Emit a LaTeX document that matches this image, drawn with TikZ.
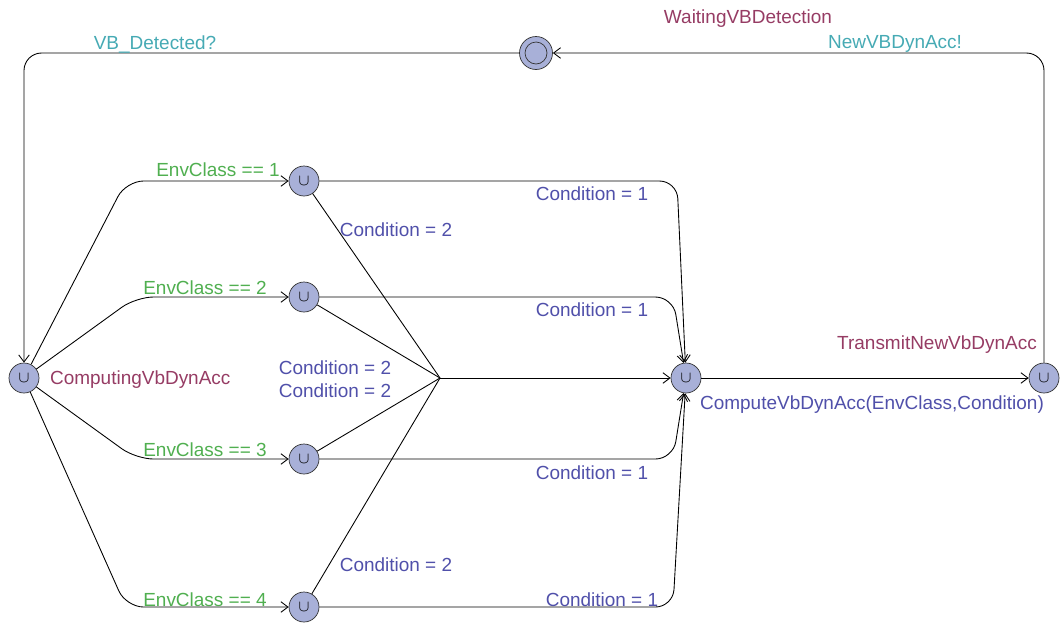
\documentclass[tikz,border=0pt]{standalone}
\usepackage{fontspec}
\setmainfont{Liberation Sans}
\usetikzlibrary{arrows.meta, positioning, calc}

\definecolor{locfill}{RGB}{168,176,216}
\definecolor{locname}{RGB}{150,60,100}
\definecolor{guardcol}{RGB}{80,175,80}
\definecolor{synccol}{RGB}{70,170,180}
\definecolor{updcol}{RGB}{80,80,170}

\begin{document}
\begin{tikzpicture}[
    x=0.02cm, y=-0.02cm,
    font=\fontsize{10.8pt}{13pt}\selectfont,
    location/.style={circle, draw=black!80, fill=locfill, minimum size=0.6cm, inner sep=0pt},
    committed/.style={location, font=\small},
    waiting/.style={location, minimum size=0.66cm, path picture={\draw[black!80] (path picture bounding box.center) circle (0.22cm);}},
    lname/.style={text=locname, inner sep=1pt},
    guard/.style={text=guardcol, inner sep=1pt},
    sync/.style={text=synccol, inner sep=1pt},
    update/.style={text=updcol, inner sep=1pt},
    arrow/.style={-{Straight Barb[length=4pt, width=6pt]}, line width=0.5pt, rounded corners=10pt},
    edge/.style={line width=0.5pt, rounded corners=10pt}
]
    \useasboundingbox (0,0) rectangle (1060,626);

    % Locations
    \node[committed] (comp) at (24,378) {$\cup$};
    \node[committed] (env1) at (304,181) {$\cup$};
    \node[committed] (env2) at (304,297) {$\cup$};
    \node[committed] (env3) at (304,459) {$\cup$};
    \node[committed] (env4) at (304,607) {$\cup$};
    \node[committed] (calc) at (686,378) {$\cup$};
    \node[committed] (trans) at (1044,378) {$\cup$};
    \node[waiting] (wait) at (536,53) {};
    \coordinate (branch) at (440,378);

    % Location names
    \node[lname, anchor=west] (compname) at (48,380) {ComputingVbDynAcc};
    \node[lname] (waitname) at (748,19) {WaitingVBDetection};
    \node[lname] (transname) at (937,345) {TransmitNewVbDynAcc};

    % Connections
    \draw[arrow] (wait) -- (24,53) -- (comp);
    \draw[arrow] (trans) -- (1044,53) -- (wait);

    \draw[arrow] (comp) -- (126,181) -- (env1);
    \draw[arrow] (comp) -- (136,297) -- (env2);
    \draw[arrow] (comp) -- (136,459) -- (env3);
    \draw[arrow] (comp) -- (126,607) -- (env4);

    \draw[arrow] (env1) -- (677,181) -- (calc);
    \draw[arrow] (env2) -- (673,297) -- (calc);
    \draw[arrow] (env3) -- (673,459) -- (calc);
    \draw[arrow] (env4) -- (673,607) -- (calc);

    \draw[edge] (env1) -- (branch);
    \draw[edge] (env2) -- (branch);
    \draw[edge] (env3) -- (branch);
    \draw[edge] (env4) -- (branch);
    \draw[arrow] (branch) -- (calc);

    \draw[arrow] (calc) -- (trans);

    % Labels
    \node[sync] (detected) at (155,45) {VB\_Detected?};
    \node[sync] (newacc) at (895,44) {NewVBDynAcc!};

    \node[guard] (g1) at (218,170) {EnvClass == 1};
    \node[guard] (g2) at (205,288) {EnvClass == 2};
    \node[guard] (g3) at (205,450) {EnvClass == 3};
    \node[guard] (g4) at (205,600) {EnvClass == 4};

    \node[update] (c11) at (592,194) {Condition = 1};
    \node[update] (c21) at (592,310) {Condition = 1};
    \node[update] (c31) at (592,473) {Condition = 1};
    \node[update] (c41) at (602,600) {Condition = 1};

    \node[update] (c12) at (396,230) {Condition = 2};
    \node[update] (c22) at (335,368) {Condition = 2};
    \node[update] (c32) at (335,391) {Condition = 2};
    \node[update] (c42) at (396,565) {Condition = 2};

    \node[update] (callupd) at (872,405) {ComputeVbDynAcc(EnvClass,Condition)};

\end{tikzpicture}
\end{document}
